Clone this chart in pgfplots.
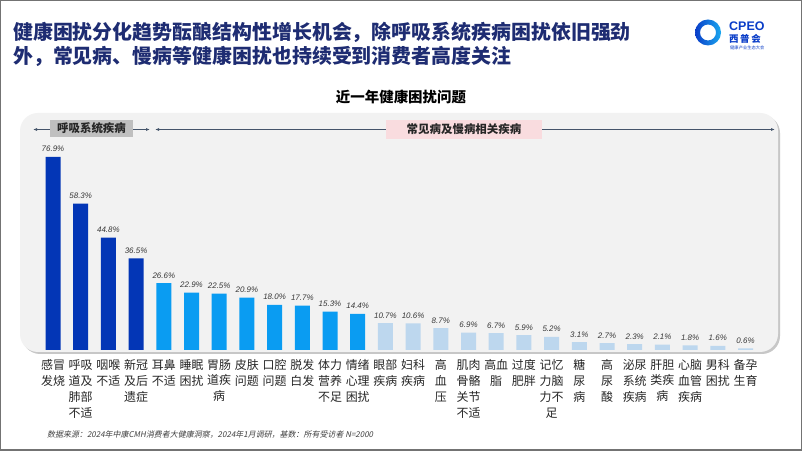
\documentclass[border=0pt]{standalone}
\usepackage{fontspec}
\usepackage{pgfplots}
\pgfplotsset{compat=1.18}
\usetikzlibrary{arrows.meta}
\setmainfont{Noto Sans CJK SC}
\newfontfamily\arial{Liberation Sans}
\newfontfamily\cjkit[FakeSlant=0.2]{Noto Sans CJK SC}
\definecolor{titleblue}{HTML}{1E2C72}
\definecolor{darkbar}{HTML}{0336B6}
\definecolor{midbar}{HTML}{0A9CF2}
\definecolor{lightbar}{HTML}{BDD7EE}
\definecolor{panel}{HTML}{F2F2F2}
\definecolor{arrowc}{HTML}{44546A}
\definecolor{graybox}{HTML}{BFBFBF}
\definecolor{pinkbox}{HTML}{F9DCDF}
\definecolor{logoA}{HTML}{0A3DC8}
\definecolor{logoB}{HTML}{1AA8F0}
\begin{document}
\begin{tikzpicture}[x=1bp,y=1bp]
\path[use as bounding box] (0,0) rectangle (802,451);
\fill[white] (0,0) rectangle (802,451);
\draw[black!55, line width=1.5bp] (0.75,0.75) rectangle (801.25,450.25);
% title
\node[anchor=west, inner sep=0pt, text=titleblue, font=\bfseries\fontsize{20}{24}\selectfont] at (13,419) {健康困扰分化趋势酝酿结构性增长机会，除呼吸系统疾病困扰依旧强劲};
\node[anchor=west, inner sep=0pt, text=titleblue, font=\bfseries\fontsize{20}{24}\selectfont] at (13,395) {外，常见病、慢病等健康困扰也持续受到消费者高度关注};
% logo
\shade[left color=logoA, right color=logoB, even odd rule] (708,418.5) circle (13) (708,418.5) circle (8);
\node[anchor=west, inner sep=0pt, text=logoA, font=\arial\bfseries\fontsize{12.5}{13}\selectfont] at (729,425) {CPEO};
\node[anchor=west, inner sep=0pt, text=logoA, font=\bfseries\fontsize{9.5}{10}\selectfont] at (729,412) {西\,普\,会};
\node[anchor=west, inner sep=0pt, text=logoA, font=\fontsize{4.3}{5}\selectfont] at (730,403) {健康产业生态大会};
% subtitle
\node[inner sep=0pt, font=\bfseries\fontsize{14.5}{16}\selectfont] at (401,354) {近一年健康困扰问题};
% panel
\fill[black!22, rounded corners=18bp] (22,97) rectangle (780,336);
\fill[panel, rounded corners=18bp] (20,99) rectangle (778,338);
% section headers
\draw[arrowc, line width=0.8bp, {Latex[length=4bp,width=3bp]}-{Latex[length=4bp,width=3bp]}] (33,321.5) -- (150,321.5);
\fill[graybox] (50,314) rectangle (133,331);
\node[inner sep=0pt, font=\bfseries\fontsize{11.5}{12}\selectfont, text=black!85] at (91.5,322.5) {呼吸系统疾病};
\draw[arrowc, line width=0.8bp, {Latex[length=4bp,width=3bp]}-{Latex[length=4bp,width=3bp]}] (155,321.5) -- (775,321.5);
\fill[pinkbox] (386,312) rectangle (542,331);
\node[inner sep=0pt, font=\bfseries\fontsize{11.5}{12}\selectfont, text=black!85] at (464,321.5) {常见病及慢病相关疾病};
% footnote
\node[anchor=west, inner sep=0pt, text=black!75, font=\cjkit\fontsize{8}{9}\selectfont] at (47,16) {数据来源：2024年中康CMH消费者大健康洞察，2024年1月调研，基数：所有受访者 N=2000};
% chart
\begin{axis}[
  at={(39.15bp,101bp)}, anchor=south west,
  scale only axis, width=720.2bp, height=200.8bp,
  xmin=-0.5, xmax=25.5, ymin=0, ymax=80,
  axis line style={draw=none}, tick style={draw=none},
  ytick=\empty,
  xtick={0,...,25},
  xticklabels={感冒\\发烧, 呼吸\\道及\\肺部\\不适, 咽喉\\不适, 新冠\\及后\\遗症, 耳鼻\\不适, 睡眠\\困扰, 胃肠\\道疾\\病, 皮肤\\问题, 口腔\\问题, 脱发\\白发, 体力\\营养\\不足, 情绪\\心理\\困扰, 眼部\\疾病, 妇科\\疾病, 高\\血\\压, 肌肉\\骨骼\\关节\\不适, 高血\\脂, 过度\\肥胖, 记忆\\力脑\\力不\\足, 糖\\尿\\病, 高\\尿\\酸, 泌尿\\系统\\疾病, 肝胆\\类疾\\病, 心脑\\血管\\疾病, 男科\\困扰, 备孕\\生育},
  xticklabel style={align=center, font=\fontsize{12}{16}\selectfont, text=black!85, anchor=north, inner sep=0pt, yshift=-5bp},
  /pgf/number format/assume math mode=true,
  ybar, bar width=15bp, bar shift=0pt,
  nodes near coords={\pgfmathprintnumber[fixed,fixed zerofill,precision=1,assume math mode=true]{\pgfplotspointmeta}\%},
  every node near coord/.append style={font=\arial\itshape\fontsize{8}{9}\selectfont, text=black!78, yshift=1.5bp},
  clip=false,
]
\addplot[draw=none, fill=darkbar] coordinates {(0,76.9) (1,58.3) (2,44.8) (3,36.5)};
\addplot[draw=none, fill=midbar] coordinates {(4,26.6) (5,22.9) (6,22.5) (7,20.9) (8,18.0) (9,17.7) (10,15.3) (11,14.4)};
\addplot[draw=none, fill=lightbar] coordinates {(12,10.7) (13,10.6) (14,8.7) (15,6.9) (16,6.7) (17,5.9) (18,5.2) (19,3.1) (20,2.7) (21,2.3) (22,2.1) (23,1.8) (24,1.6) (25,0.6)};
\end{axis}
\end{tikzpicture}
\end{document}
